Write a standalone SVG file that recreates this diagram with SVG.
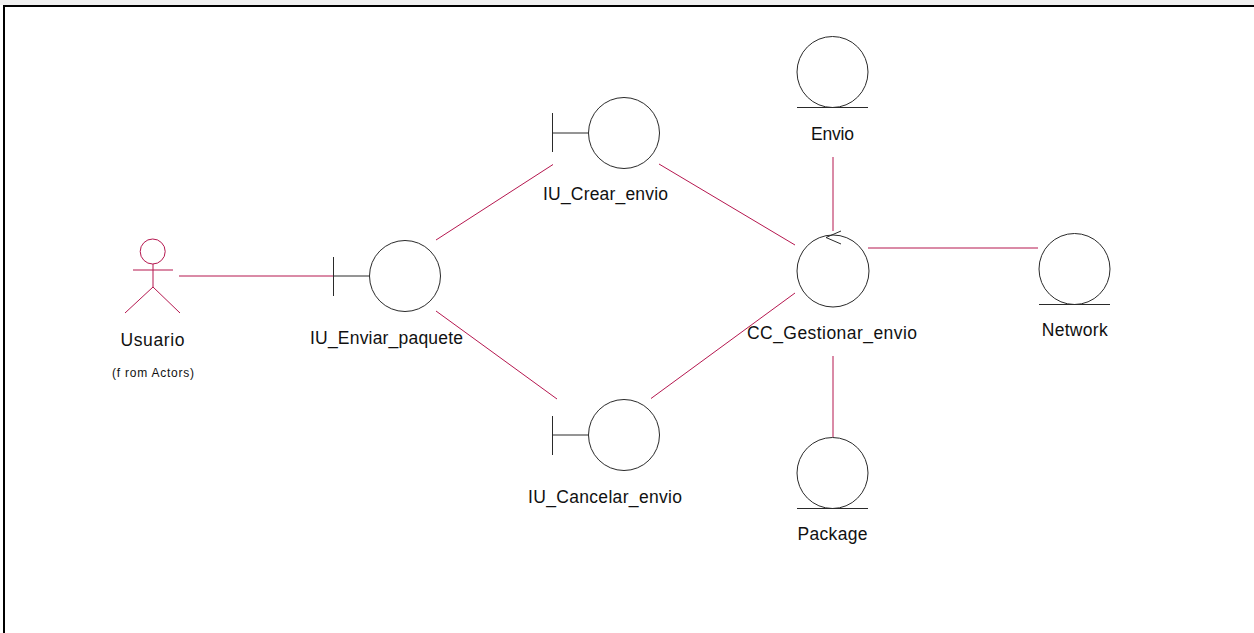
<svg xmlns="http://www.w3.org/2000/svg" width="1254" height="633" viewBox="0 0 1254 633">
<style>
.o{fill:none;stroke:#2a2a2a;stroke-width:1}
.c{fill:none;stroke:#b5174f;stroke-width:1}
.b{fill:none;stroke:#000;stroke-width:2}
text{font-family:"Liberation Sans",Arial,sans-serif;font-size:17.500px;fill:#111;text-anchor:middle}
.s{font-size:12px}
</style>
<rect x="0" y="0" width="1254" height="633" fill="#fff"/>
<rect x="0" y="0" width="1254" height="5" fill="#f0f0f0"/>
<path class="b" d="M4 633V6H1254"/>
<g id="connectors">
<path class="c" d="M179 276H333"/>
<path class="c" d="M436 240L553 164.500"/>
<path class="c" d="M436 311L557 399"/>
<path class="c" d="M659 164L795 245"/>
<path class="c" d="M651 398.500L795 293"/>
<path class="c" d="M833 157V231"/>
<path class="c" d="M868 248H1038"/>
<path class="c" d="M833 356V437"/>
</g>
<g id="usuario">
<circle cx="152.700" cy="251.500" r="12.500" fill="none" stroke="#b5174f"/>
<path class="c" d="M133 270H173M153 264V287M153 287L125 313M153 287L180 313"/>
<text x="152.500" y="346" textLength="64" lengthAdjust="spacing">Usuario</text>
<text class="s" x="153" y="377" textLength="82" lengthAdjust="spacing">(f rom Actors)</text>
</g>
<g id="iu_enviar_paquete">
<circle class="o" cx="405" cy="276" r="35.500"/>
<path class="o" d="M333.500 257V296M333.500 276H369"/>
<text x="386.500" y="344" textLength="153" lengthAdjust="spacing">IU_Enviar_paquete</text>
</g>
<g id="iu_crear_envio">
<circle class="o" cx="624" cy="133" r="35.500"/>
<path class="o" d="M552.500 113V152M552.500 133H588"/>
<text x="605.500" y="200" textLength="125" lengthAdjust="spacing">IU_Crear_envio</text>
</g>
<g id="iu_cancelar_envio">
<circle class="o" cx="624" cy="435" r="35.500"/>
<path class="o" d="M552.500 416V455M552.500 435H588"/>
<text x="605" y="503" textLength="154" lengthAdjust="spacing">IU_Cancelar_envio</text>
</g>
<g id="cc_gestionar_envio">
<circle class="o" cx="833" cy="271" r="36"/>
<path class="o" d="M841 231L826 237.500L841 244"/>
<text x="832" y="339" textLength="170" lengthAdjust="spacing">CC_Gestionar_envio</text>
</g>
<g id="envio">
<circle class="o" cx="832.500" cy="72" r="35.500"/>
<path class="o" d="M797 107.500H868"/>
<text x="832.500" y="140" textLength="43" lengthAdjust="spacing">Envio</text>
</g>
<g id="network">
<circle class="o" cx="1074.500" cy="269" r="35.500"/>
<path class="o" d="M1039 304.500H1110"/>
<text x="1074.700" y="336" textLength="66" lengthAdjust="spacing">Network</text>
</g>
<g id="package">
<circle class="o" cx="832.500" cy="473" r="35.500"/>
<path class="o" d="M797 508.500H868"/>
<text x="832.500" y="540" textLength="70" lengthAdjust="spacing">Package</text>
</g>
</svg>
